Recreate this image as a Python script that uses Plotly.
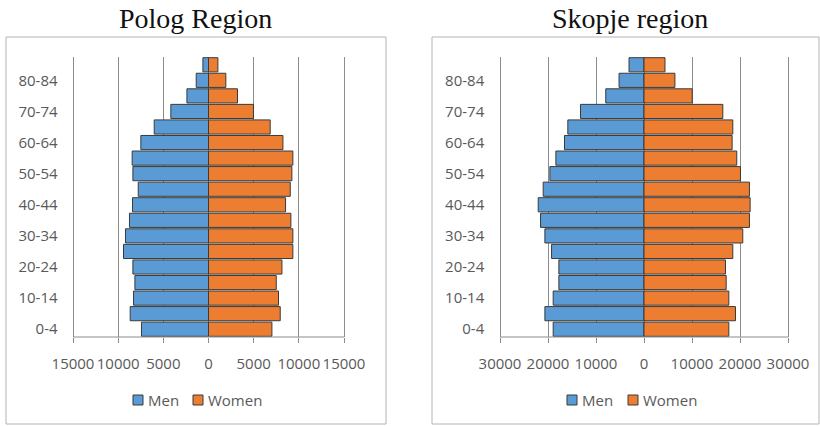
import plotly.graph_objects as go

# Age groups, youngest first
age_groups = ["0-4", "5-9", "10-14", "15-19", "20-24", "25-29", "30-34", "35-39",
              "40-44", "45-49", "50-54", "55-59", "60-64", "65-69", "70-74",
              "75-79", "80-84", "85+"]

# Polog Region population by age group
polog_men = [7420, 8670, 8300, 8150, 8370, 9410, 9190, 8750, 8410, 7780,
             8370, 8450, 7490, 6010, 4170, 2390, 1360, 620]
polog_women = [7020, 7940, 7750, 7500, 8130, 9340, 9340, 9120, 8530, 9050,
               9230, 9340, 8240, 6830, 4980, 3210, 1920, 1040]

# Skopje region population by age group
skopje_men = [18920, 20650, 18920, 17740, 17740, 19260, 20650, 21550, 22040, 21000,
              19610, 18360, 16560, 15870, 13230, 7970, 5200, 3120]
skopje_women = [17670, 19060, 17670, 17120, 16980, 18500, 20580, 21970, 22110, 21970,
                20100, 19330, 18360, 18500, 16420, 10050, 6440, 4370]

polog_ticks = [-15000, -10000, -5000, 0, 5000, 10000, 15000]
skopje_ticks = [-30000, -20000, -10000, 0, 10000, 20000, 30000]
shown_groups = age_groups[::2]

titles = ["Polog Region", "Skopje region"]
series_names = ["Men", "Women"]

W, H = 820, 426
MEN_COLOR = "#5b9bd5"
WOMEN_COLOR = "#ed7d31"
EDGE = "#3a3a3a"
GRID = "#8c8c8c"
TXT = "#595959"
FONT = "Open Sans"
PAD = 0.02  # fraction of the tick span added on both sides of each x-axis


def px(x):
    return x / W


def py(y):
    return 1 - y / H


fig = go.Figure()

panels = [
    ("x", "y", polog_men, polog_women),
    ("x2", "y2", skopje_men, skopje_women),
]
for xa, ya, men, women in panels:
    fig.add_trace(go.Bar(
        y=age_groups, x=[-v for v in men], orientation="h", name=series_names[0],
        marker=dict(color=MEN_COLOR, line=dict(color=EDGE, width=1)),
        xaxis=xa, yaxis=ya, showlegend=False, customdata=men,
        hovertemplate="%{y}: %{customdata}<extra>Men</extra>"))
    fig.add_trace(go.Bar(
        y=age_groups, x=women, orientation="h", name=series_names[1],
        marker=dict(color=WOMEN_COLOR, line=dict(color=EDGE, width=1)),
        xaxis=xa, yaxis=ya, showlegend=False,
        hovertemplate="%{y}: %{x}<extra>Women</extra>"))


def xaxis_cfg(ticks, left, right):
    # widen the range and the domain together so the outer grid lines are kept
    span = ticks[-1] - ticks[0]
    wpx = right - left
    return dict(
        domain=[px(left - PAD * wpx), px(right + PAD * wpx)],
        range=[ticks[0] - PAD * span, ticks[-1] + PAD * span], tickvals=ticks,
        ticktext=[str(abs(t)) for t in ticks], showgrid=True, gridcolor=GRID,
        gridwidth=1.2, zeroline=False, showline=False,
        ticks="outside", ticklen=5, tickcolor=GRID, tickwidth=1, tickangle=0,
        ticklabelstandoff=8, automargin=False,
        tickfont=dict(family=FONT, size=15, color=TXT), fixedrange=True)


def yaxis_cfg(anchor):
    return dict(
        domain=[py(337), py(57)], anchor=anchor, type="category",
        categoryorder="array", categoryarray=age_groups,
        tickvals=shown_groups, ticktext=shown_groups, showgrid=False,
        zeroline=False, showline=False, ticks="", ticklabelstandoff=9,
        automargin=False,
        tickfont=dict(family=FONT, size=15, color=TXT), fixedrange=True)


shapes = [
    dict(type="rect", xref="paper", yref="paper", x0=px(6), x1=px(386),
         y0=py(424), y1=py(37), line=dict(color="#b4b4b4", width=1), layer="below"),
    dict(type="rect", xref="paper", yref="paper", x0=px(432), x1=px(819),
         y0=py(424), y1=py(37), line=dict(color="#b4b4b4", width=1), layer="below"),
]
# horizontal axis line spanning the tick range of each panel
for xa, ticks in [("x", polog_ticks), ("x2", skopje_ticks)]:
    shapes.append(dict(type="line", xref=xa, yref="paper", x0=ticks[0], x1=ticks[-1],
                       y0=py(337), y1=py(337), line=dict(color=GRID, width=1)))

# Legend drawn per panel: colour key square followed by its label
annotations = []
legend_starts = [(133, 193), (567, 628)]
for starts in legend_starts:
    for name, color, x0 in zip(series_names, [MEN_COLOR, WOMEN_COLOR], starts):
        shapes.append(dict(type="rect", xref="paper", yref="paper",
                           x0=px(x0), x1=px(x0 + 10), y0=py(405), y1=py(395),
                           fillcolor=color, line=dict(color=EDGE, width=1)))
        annotations.append(dict(text=name, x=px(x0 + 13), y=py(400), xref="paper",
                                yref="paper", xanchor="left", yanchor="middle",
                                showarrow=False,
                                font=dict(family=FONT, size=15, color=TXT)))

for title, cx in zip(titles, [195, 630]):
    annotations.append(dict(text=title, x=px(cx), y=py(19), xref="paper",
                            yref="paper", xanchor="center", yanchor="middle",
                            showarrow=False,
                            font=dict(family="Liberation Serif", size=28,
                                      color="#111111")))

fig.update_layout(
    width=W, height=H, margin=dict(l=0, r=0, t=0, b=0, autoexpand=False),
    paper_bgcolor="white", plot_bgcolor="white",
    barmode="relative", bargap=0.09, showlegend=False,
    xaxis=xaxis_cfg(polog_ticks, 73, 344),
    yaxis=yaxis_cfg("x"),
    xaxis2=xaxis_cfg(skopje_ticks, 500, 788),
    yaxis2=yaxis_cfg("x2"),
    shapes=shapes,
    annotations=annotations,
)

fig.write_html("out.html")
